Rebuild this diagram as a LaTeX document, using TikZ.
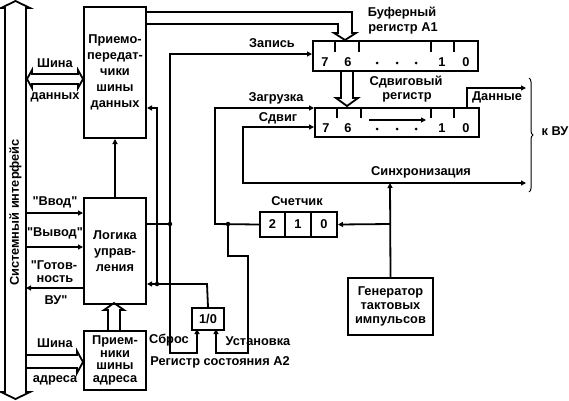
\documentclass[tikz,border=0pt]{standalone}
\usepackage{fontspec}
\setmainfont{Liberation Sans}[Ligatures=TeXOff]
\usetikzlibrary{arrows.meta,decorations.pathreplacing}
\begin{document}
\begin{tikzpicture}[x=1pt,y=-1pt,
  font=\fontsize{12.8}{14}\selectfont\bfseries,
  wire/.style={line width=1.8pt},
  arr/.style={wire,-{Triangle[length=5pt,width=5pt]}},
  blk/.style={draw,line width=2pt,inner sep=0pt,anchor=north west,align=center},
  lbl/.style={inner sep=0pt,align=center},
  jd/.style={circle,fill,inner sep=0pt,minimum size=4.5pt},
  bit/.style={inner sep=0pt},
  pt/.style={circle,fill,inner sep=0pt,minimum size=3pt},
]
\useasboundingbox (0,0) rectangle (569,400);
% system bus
\draw[wire,fill=white] (5,392)--(5,8)--(1,8)--(15.5,1)--(30,8)--(26,8)--(26,392)--(30,392)--(15.5,399)--(1,392)--cycle;
\node[lbl,rotate=90] (sysi) at (15.5,212.5) {Системный интерфейс};
% blocks
\node[blk,minimum width=62pt,minimum height=131pt,font=\fontsize{12.8}{16}\selectfont\bfseries] (trx) at (83,6) {Приемо-\\передат-\\чики\\шины\\данных};
\node[blk,minimum width=62pt,minimum height=106pt,font=\fontsize{12.8}{16}\selectfont\bfseries] (logic) at (83,197) {Логика\\управ-\\ления};
\node[blk,minimum width=62pt,minimum height=59pt,font=\fontsize{12.8}{12.7}\selectfont\bfseries] (rcv) at (83,330) {Прием-\\ники\\шины\\адреса};
\node[blk,minimum width=85pt,minimum height=57pt,font=\fontsize{12.8}{14}\selectfont\bfseries] (gen) at (347,277) {Генератор\\тактовых\\импульсов};
\node[blk,minimum width=165pt,minimum height=30pt] (buf) at (312,40) {};
\node[blk,minimum width=164pt,minimum height=29pt] (shf) at (314,107) {};
\node[blk,minimum width=25pt,minimum height=25pt] (c2) at (259,211) {2};
\node[blk,minimum width=26pt,minimum height=25pt] (c1) at (284,211) {1};
\node[blk,minimum width=26pt,minimum height=25pt] (c0) at (310,211) {0};
\node[blk,minimum width=32pt,minimum height=22pt] (st) at (191,307) {1/0};
% register contents
\foreach \x in {335,359,431,454} \draw[wire] (\x,40)--(\x,52);
\foreach \x in {337,361,431,454} \draw[wire] (\x,107)--(\x,118);
\node[bit] (b7) at (325,62) {7}; \node[bit] (b6) at (348,62) {6};
\node[bit] (b1) at (442,62) {1}; \node[bit] (b0) at (466,62) {0};
\node[pt] (bp1) at (377,63) {}; \node[pt] (bp2) at (397,63) {}; \node[pt] (bp3) at (416,63) {};
\node[bit] (s7) at (326,128) {7}; \node[bit] (s6) at (348,128) {6};
\node[bit] (s1) at (442,128) {1}; \node[bit] (s0) at (466,128) {0};
\node[pt] (sp1) at (377,129) {}; \node[pt] (sp2) at (397,129) {}; \node[pt] (sp3) at (416,129) {};
\coordinate (shA) at (369,120); \coordinate (shB) at (426,120);
\draw[line width=1.5pt,-{Triangle[length=5pt,width=5pt]}] (shA)--(shB);
% hollow buses
\draw[wire] (27,79)--(32,70)--(32,74)--(78,74)--(78,70)--(83,79)--(78,88)--(78,84)--(32,84)--(32,88)--cycle;
\draw[wire] (26,355)--(77,355)--(77,351)--(83,362)--(77,373)--(77,368)--(26,368);
\draw[wire] (108,330)--(108,310)--(104,310)--(114,303)--(124,310)--(120,310)--(120,330);
\draw[wire] (145,12)--(352,12)--(352,33)--(356,33)--(345,40)--(334,33)--(338,33)--(338,24)--(145,24);
\draw[wire] (341,70)--(341,98)--(336,98)--(347,106)--(358,98)--(353,98)--(353,70);
% junctions
\coordinate (jL) at (170,224);
\coordinate (jS) at (157,284);
\coordinate (jC) at (228,224);
\coordinate (jG) at (390,224);
\coordinate (jY) at (390,183);
% logic <-> bus signals
\draw[arr] (26,213) -- (logic.west |- 0,213);
\draw[arr] (26,247) -- (logic.west |- 0,247);
\draw[arr] (logic.west |- 0,288) -- (26,288);
\draw[arr] (logic.north) -- (trx.south);
% logic outputs
\draw[wire] (logic.east |- jL) -- (jL);
\draw[arr] (jL) -- (170,54) -- (buf.west |- 0,54);
\draw[arr] (jL) -- (170,353) -- (197,353) -- (197,329);
% status register output
\draw[arr] (st.north) -- (207,284) -- (logic.east |- jS);
\draw[arr] (jS) -- (157,108) -- (trx.east |- 0,108);
% counter
\draw[arr] (c2.west) -- (215,224) -- (215,108) -- (shf.west |- 0,108);
\draw[arr] (jC) -- (228,256) -- (248,256) -- (248,353) -- (216,353) -- (216,329);
\draw[arr] (gen.north) -- (jY);
\draw[arr] (jG) -- (c0.east);
\draw[wire,{Triangle[length=5pt,width=5pt]}-{Triangle[length=5pt,width=5pt]}] (shf.west |- 0,127) -- (243,127) -- (243,183) -- (526,183);
\draw[arr] (467,107) -- (467,88) -- (526,88);
\node[jd] at (jL) {}; \node[jd] at (jS) {}; \node[jd] at (jC) {};
% brace
\draw[line width=1pt,decorate,decoration={brace,amplitude=4pt}] (529,78) -- (529,192);
% labels
\node[lbl] (l1) at (55,63) {Шина};
\node[lbl] (l2) at (55,97) {данных};
\node[lbl] (l3) at (55,202) {"Ввод"};
\node[lbl] (l4) at (55,233) {"Вывод"};
\node[lbl] (l5) at (54,265) {"Готов-};
\node[lbl] (l6) at (55,279) {ность};
\node[lbl] (l7) at (56,300) {ВУ"};
\node[lbl] (l8) at (55,343) {Шина};
\node[lbl] (l9) at (55,380) {адреса};
\node[lbl] (l10) at (272,43) {Запись};
\node[lbl] (l11) at (276,98) {Загрузка};
\node[lbl] (l12) at (278,118) {Сдвиг};
\node[lbl] (l13) at (402,13) {Буферный};
\node[lbl] (l14) at (403,28) {регистр А1};
\node[lbl] (l15) at (406,82) {Сдвиговый};
\node[lbl] (l16) at (407,97) {регистр};
\node[lbl] (l17) at (497,97) {Данные};
\node[lbl] (l18) at (421,172) {Синхронизация};
\node[lbl] (l19) at (297,201) {Счетчик};
\node[lbl] (l20) at (169,340) {Сброс};
\node[lbl] (l21) at (258,341) {Установка};
\node[lbl] (l22) at (220,362) {Регистр состояния А2};
\node[lbl] (l23) at (555,131) {к ВУ};
\end{tikzpicture}
\end{document}
